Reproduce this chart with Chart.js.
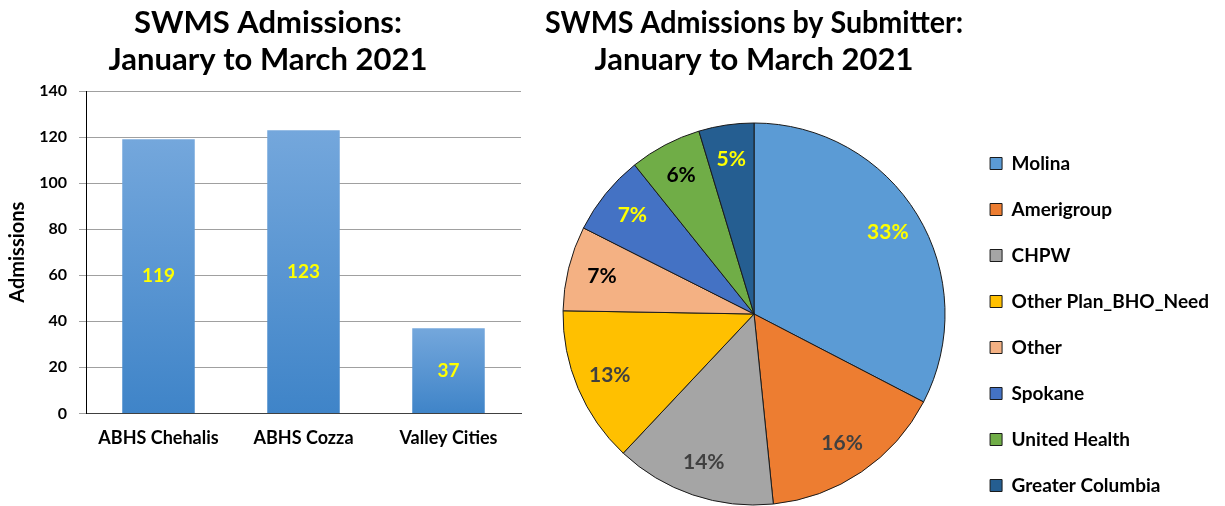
<!DOCTYPE html>
<html>
<head>
<meta charset="utf-8">
<title>SWMS Admissions</title>
<script src="https://cdn.jsdelivr.net/npm/chart.js@4.4.1/dist/chart.umd.min.js"></script>
<style>
    html, body { margin: 0; padding: 0; background: #fff; overflow: hidden; width: 1225px; height: 506px; }
    canvas { position: absolute; top: 0; }
    #barChart { left: 0; }
    #pieChart { left: 520px; }
</style>
</head>
<body>
<canvas id="barChart" width="536" height="506"></canvas>
<canvas id="pieChart" width="705" height="522"></canvas>
<script>
//==========================================================================================
// data
const siteLabels = ['ABHS Chehalis', 'ABHS Cozza', 'Valley Cities'];     // X axis
const siteAdmissions = [119, 123, 37];                                   // Y values
const admissionTicks = [0, 20, 40, 60, 80, 100, 120, 140];               // Y axis ticks

const submitterLabels = ['Molina', 'Amerigroup', 'CHPW', 'Other Plan_BHO_Need', 'Other', 'Spokane', 'United Health', 'Greater Columbia'];
const submitterCounts = [91, 44, 38, 37, 20, 19, 17, 13];               // 279 total

// colours (kept apart from the data)
const submitterColors = ['#5B9BD5', '#ED7D31', '#A5A5A5', '#FFC000', '#F4B183', '#4472C4', '#70AD47', '#255E91'];
const submitterTextColors = ['#FFFF00', '#404040', '#404040', '#404040', '#000000', '#FFFF00', '#000000', '#FFFF00'];

Chart.defaults.font.family = 'Lato, "Open Sans", sans-serif';
Chart.defaults.color = '#000';

const titleFont = { size: 31, weight: 'bold', lineHeight: 1.2 };

//==========================================================================================
// bar chart
function barGradient(context){
    const chart = context.chart;
    const yScale = chart.scales.y;
    if (context.type !== 'data' || !yScale) return '#5B9BD5';
    const top = yScale.getPixelForValue(context.raw);
    const bottom = yScale.getPixelForValue(0);
    if (!isFinite(top) || !isFinite(bottom)) return '#5B9BD5';   // scale not laid out yet
    const g = chart.ctx.createLinearGradient(0, top, 0, bottom);
    g.addColorStop(0, '#74A7DC');   // lighter top
    g.addColorStop(1, '#3F84C8');   // darker bottom
    return g;
}

// value written in the middle of each bar
const barValueLabels = {
    id: 'barValueLabels',
    afterDatasetsDraw(chart){
        const ctx = chart.ctx;
        const values = chart.data.datasets[0].data;
        ctx.save();
        ctx.font = 'bold 19px Lato';
        ctx.fillStyle = '#FFFF00';
        ctx.textAlign = 'center';
        ctx.textBaseline = 'middle';
        chart.getDatasetMeta(0).data.forEach((bar, i) => {
            ctx.fillText(values[i], bar.x, (bar.y + bar.base) / 2);
        });
        ctx.restore();
    }
};

function createBarchartData(xDataArr, yDataArr){
    return {
        labels: xDataArr,
        datasets: [{
            label: 'Admissions',
            data: yDataArr,
            backgroundColor: barGradient,
            borderWidth: 0,
            categoryPercentage: 1.0,
            barPercentage: 0.5
        }]
    };
}

function createBarchart(chartid, data){
    const ctx = document.getElementById(chartid);
    return new Chart(ctx, {
        type: 'bar',
        data: data,
        plugins: [barValueLabels],
        options: {
            responsive: false,
            animation: false,
            layout: { padding: { left: 15, right: 15, top: 0, bottom: 43 } },
            plugins: {
                legend: { display: false },
                tooltip: { enabled: false },
                title: {
                    display: true,
                    text: ['SWMS Admissions:', 'January to March 2021'],
                    color: '#000',
                    font: titleFont,
                    padding: { top: 4, bottom: 12.6 }
                }
            },
            scales: {
                x: {
                    grid: { display: false, drawTicks: false },
                    border: { display: true, color: '#404040' },
                    ticks: { color: '#000', font: { size: 18, weight: 'bold' }, padding: 14 }
                },
                y: {
                    min: admissionTicks[0],
                    max: admissionTicks[admissionTicks.length - 1],
                    afterBuildTicks(scale){ scale.ticks = admissionTicks.map(v => ({ value: v })); },
                    afterFit(scale){ scale.width = 71; },
                    ticks: { color: '#000', font: { size: 16, weight: 'bold' }, padding: 12 },
                    grid: { color: '#A0A0A0', tickLength: 7 },
                    border: { display: true, color: '#000' },
                    title: {
                        display: true,
                        text: 'Admissions',
                        color: '#000',
                        font: { size: 20, weight: 'bold' },
                        padding: { top: -9.5, bottom: 0 }
                    }
                }
            }
        }
    });
}

//==========================================================================================
// pie chart
const piePercentLabels = {
    id: 'piePercentLabels',
    afterDatasetsDraw(chart){
        const ctx = chart.ctx;
        const values = chart.data.datasets[0].data;
        const total = values.reduce((a, b) => a + b, 0);
        ctx.save();
        ctx.font = 'bold 21px Lato';
        ctx.textAlign = 'center';
        ctx.textBaseline = 'middle';
        chart.getDatasetMeta(0).data.forEach((arc, i) => {
            const mid = (arc.startAngle + arc.endAngle) / 2;
            const r = arc.outerRadius * 0.82;
            ctx.fillStyle = submitterTextColors[i];
            ctx.fillText(Math.round(values[i] / total * 100) + '%', arc.x + Math.cos(mid) * r, arc.y + Math.sin(mid) * r);
        });
        ctx.restore();
    }
};

function createPiechartData(labelDataArr, valueDataArr, colorSetArr){
    return {
        labels: labelDataArr,
        datasets: [{
            label: 'Admissions',
            data: valueDataArr,
            backgroundColor: colorSetArr,
            borderColor: '#1A1A1A',
            borderWidth: 1,
            hoverOffset: 0,
            radius: 191
        }]
    };
}

function createPiechart(chartid, data){
    const ctx = document.getElementById(chartid);
    return new Chart(ctx, {
        type: 'pie',
        data: data,
        plugins: [piePercentLabels],
        options: {
            responsive: false,
            animation: false,
            layout: { padding: { left: 25, right: 6, top: 0, bottom: 0 } },
            plugins: {
                tooltip: { enabled: false },
                title: {
                    display: true,
                    fullSize: false,     // centred over the pie area, not the legend
                    text: ['SWMS Admissions by Submitter:', 'January to March 2021'],
                    color: '#000',
                    font: titleFont,
                    padding: { top: 4, bottom: 27.6 }
                },
                legend: {
                    position: 'right',
                    align: 'end',
                    labels: {
                        boxWidth: 12,
                        boxHeight: 12,
                        padding: 27,
                        color: '#000',
                        font: { size: 19, weight: 'bold' }
                    }
                }
            }
        }
    });
}

const barChart = createBarchart('barChart', createBarchartData(siteLabels, siteAdmissions));
const pieChart = createPiechart('pieChart', createPiechartData(submitterLabels, submitterCounts, submitterColors));
</script>
</body>
</html>
